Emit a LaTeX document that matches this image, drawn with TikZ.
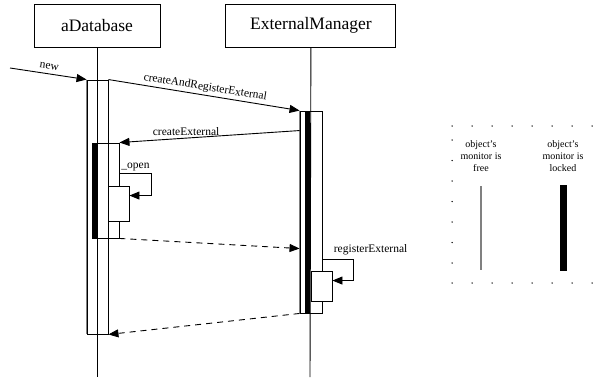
\documentclass[tikz,border=0pt]{standalone}
\usepackage{fontspec}
\setmainfont{Liberation Serif}
\usetikzlibrary{arrows.meta,positioning,calc}
\tikzset{
	%Define standard arrow tip
	>={Triangle[length=10pt,width=8pt]},
	%Define style for the object boxes
	objBox/.style={
		rectangle,
		draw=black, line width=0.9pt,
		minimum width=#1,
		minimum height=43pt,
		inner sep=0pt,
		font=\fontsize{17.5}{20}\selectfont},
	% activation bars
	actBar/.style={
		rectangle,
		draw=black, line width=0.9pt,
		inner sep=0pt},
	callBox/.style={actBar, fill=white},
	lifeLine/.style={line width=0.9pt},
	% Define arrow styles
	msgStyle/.style={
		->,
		line width=0.9pt},
	retStyle/.style={
		->,
		line width=0.9pt,
		dash pattern=on 6pt off 5pt},
	msgLabel/.style={font=\fontsize{11.5}{13}\selectfont, inner sep=2pt},
	legendText/.style={align=center, font=\fontsize{10}{12}\selectfont}
}

\begin{document}
\begin{tikzpicture}[x=1pt,y=-1pt]
		\useasboundingbox (0,0) rectangle (596,377);
		
		%objects
		\node[objBox=126pt] (dbHead) at (97,25.5) {aDatabase};
		\node[objBox=170pt, right=65pt of dbHead] (emHead) {ExternalManager};
		
		\coordinate (dbEnd) at (97,377);
		\coordinate (emEnd) at (310,377);
		\draw[lifeLine] (dbHead.south) -- (dbEnd);
		\draw[lifeLine] (emHead.south) -- (emEnd);
		
		%activations
		\node[actBar, minimum width=21pt, minimum height=254pt] (dbAct) at (97.5,207) {};
		\draw[gray, line width=0.9pt] (dbAct.north west) -- (dbAct.south west);
		
		\node[actBar, minimum width=27pt, minimum height=95pt] (dbInner) at (105.5,190.5) {};
		\fill (dbInner.north west) rectangle ($(dbInner.south west)+(5,0)$);
		
		\node[callBox, minimum width=21pt, minimum height=35pt] (openAct) at (118.5,203.5) {};
		
		\node[actBar, minimum width=22pt, minimum height=202pt] (emAct) at (311,212) {};
		\draw[gray, line width=0.9pt] (emAct.north west) -- (emAct.south west);
		\fill ($(emAct.north west)+(5,0)$) rectangle ($(emAct.south west)+(10,0)$);
		
		\node[callBox, minimum width=21pt, minimum height=30pt] (regAct) at (321.5,286) {};
		
		%messages
		\coordinate (newStart) at (10,68);
		\draw[msgStyle] (newStart) -- node[msgLabel, sloped, above, yshift=2pt] {new} (dbAct.north west);
		\draw[msgStyle] (dbAct.north east) -- node[msgLabel, sloped, above] {createAndRegisterExternal} (emAct.north west);
		\draw[msgStyle] ($(emAct.north west)+(0,20)$) -- node[msgLabel, above, pos=0.63] {createExternal} (dbInner.north east);
		\draw[msgStyle] ($(dbInner.north east)+(0,31)$) -- node[msgLabel, above] {\_open} ++(32,0) |- ($(openAct.north east)+(0,10)$);
		\draw[msgStyle] ($(emAct.north east)+(0,149)$) -- node[msgLabel, pos=0, anchor=south west, inner sep=0pt, xshift=11pt, yshift=4.5pt] {registerExternal} ++(31,0) |- ($(regAct.north east)+(0,10)$);
		
		%returns
		\draw[retStyle] (dbInner.south east) -- ($(emAct.north west)+(0,138)$);
		\draw[retStyle] (emAct.south west) -- (dbAct.south east);
		
		%legend
		\foreach \x in {452,472,...,592} {
			\fill (\x,126) circle (0.75);
			\fill (\x,283) circle (0.75);
		}
		\foreach \y in {140,160.5,...,263} \fill (452,\y) circle (0.75);
		
		\node[legendText] (freeLbl) at (481,156) {object's\\monitor is\\free};
		\node[legendText] (lockedLbl) at (563,156) {object's\\monitor is\\locked};
		\node[rectangle, fill=gray, minimum width=1.5pt, minimum height=84pt, inner sep=0pt] (freeBar) at (481,228) {};
		\node[rectangle, fill=black, minimum width=7pt, minimum height=86pt, inner sep=0pt] (lockedBar) at (563.5,228) {};
		
\end{tikzpicture}
\end{document}
